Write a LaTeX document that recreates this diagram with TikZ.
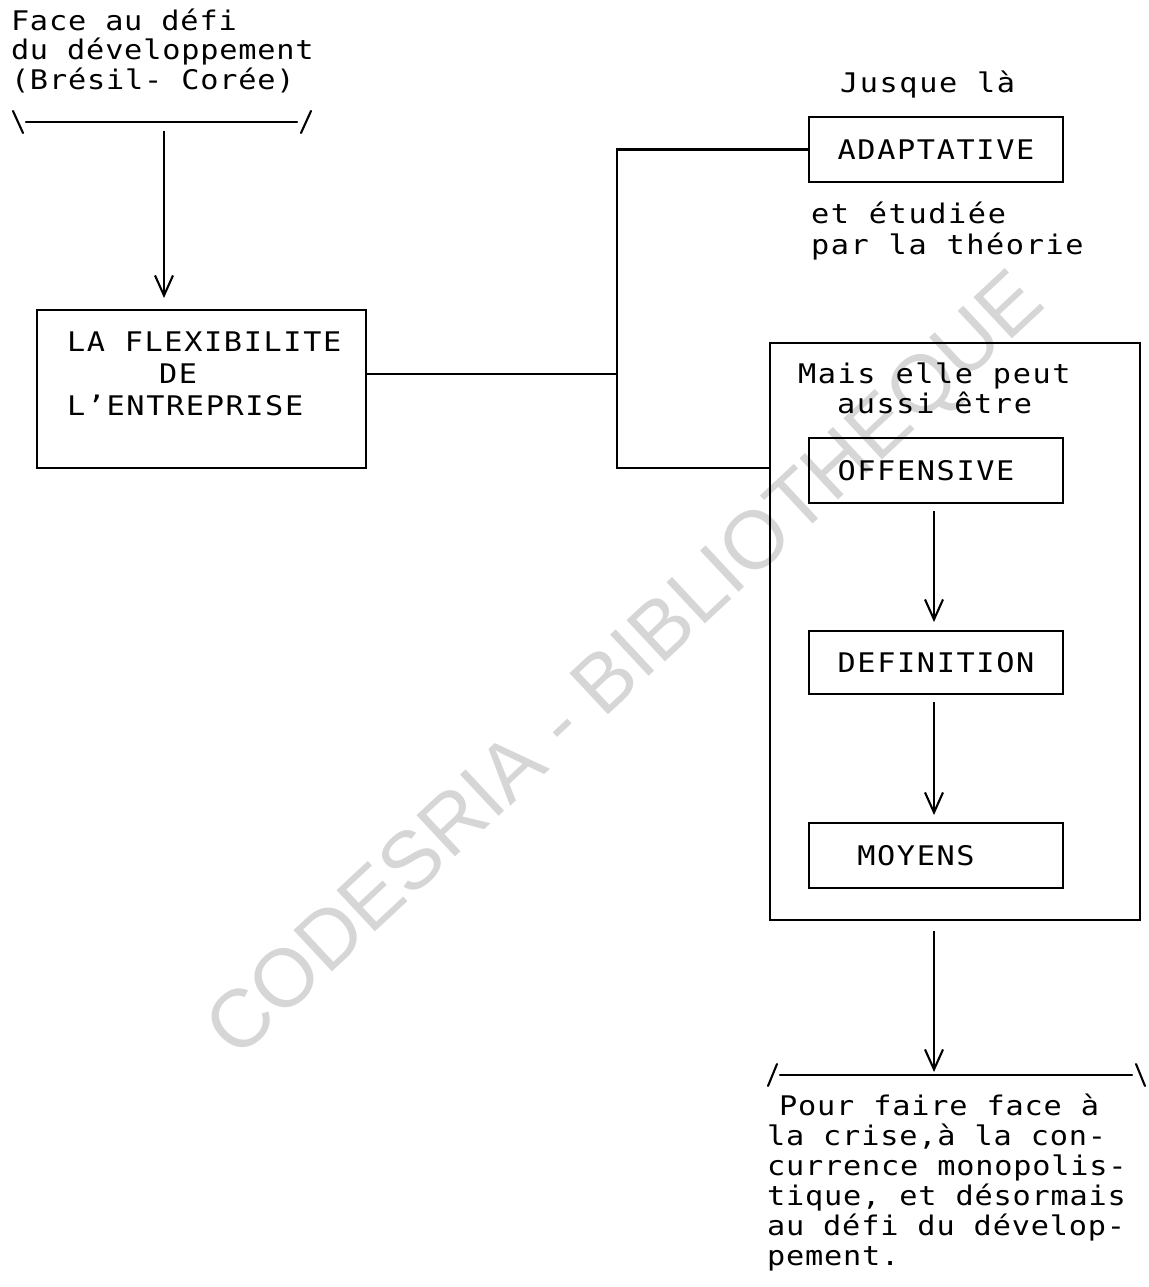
\documentclass[tikz,border=0pt]{standalone}
\usepackage{fontspec}
\newfontfamily\tw[FakeStretch=1.12,LetterSpace=6]{DejaVu Sans Mono}
\newfontfamily\twn[FakeStretch=1.12,LetterSpace=3]{DejaVu Sans Mono}
\newfontfamily\wm{Liberation Sans}
\usetikzlibrary{arrows.meta}

\begin{document}
\begin{tikzpicture}[x=1pt,y=-1pt,
  every node/.style={inner sep=0pt, outer sep=0pt},
  txt/.style={font=\tw\fontsize{27}{30}\selectfont, align=left, anchor=north west},
  boxtxt/.style={font=\tw\fontsize{27}{30}\selectfont},
  frame/.style={draw, line width=2.1pt, rectangle},
  link/.style={line width=2.1pt},
  flow/.style={line width=2.1pt, -{Straight Barb[length=20pt,width=18pt,line width=2.1pt]}},
  brace/.style={line width=2.1pt, line cap=round},
]
\useasboundingbox (0,0) rectangle (1148,1287);

% library stamp behind everything
\node[font=\wm\fontsize{82}{82}\selectfont, text=black!16, rotate=43] (stamp) at (628,668) {CODESRIA - BIBLIOTHEQUE};

% upper left heading and its bracket
\node[txt, font=\twn\fontsize{27}{29.5}\selectfont] (head) at (11,4.5) {\rule{0pt}{26pt}Face au défi\\du développement\\(Brésil- Corée)};
\draw[brace] (13,111) -- (23,133);
\draw[brace] (26,122) -- (297,122);
\draw[brace] (301,133) -- (311,111);
\coordinate (src) at (164,131);

% main box
\node[frame, minimum width=329pt, minimum height=158pt] (flex) at (201.5,389) {};
\node[txt, font=\tw\fontsize{27}{32}\selectfont] (flextxt) at (67,325) {\rule{0pt}{26pt}LA FLEXIBILITE\\\hspace*{92pt}DE\\L’ENTREPRISE};

% upper branch
\node[txt] (until) at (840,67) {\rule{0pt}{26pt}Jusque là};
\node[frame, boxtxt, minimum width=254pt, minimum height=65pt] (adapt) at (936,149.5) {ADAPTATIVE};
\node[txt, font=\tw\fontsize{27}{31}\selectfont] (theory) at (811,197) {\rule{0pt}{26pt}et étudiée\\par la théorie};

% lower branch
\node[frame, minimum width=370pt, minimum height=577pt] (big) at (955,631.5) {};
\node[txt, font=\tw\fontsize{27}{30.5}\selectfont] (also) at (798,357) {\rule{0pt}{26pt}Mais elle peut\\\hspace*{39pt}aussi être};
\node[frame, boxtxt, minimum width=254pt, minimum height=65pt] (off) at (936,470.5) {OFFENSIVE\hspace*{20pt}};
\node[frame, boxtxt, minimum width=254pt, minimum height=63pt] (def) at (936,662.5) {DEFINITION};
\node[frame, boxtxt, minimum width=254pt, minimum height=65pt] (moy) at (936,855.5) {MOYENS\hspace*{40pt}};

% closing bracket and text
\draw[brace] (768,1086) -- (777,1064);
\draw[brace] (780,1075) -- (1132,1075);
\draw[brace] (1136,1064) -- (1145,1086);
\coordinate (sink) at (934,1072);
\node[txt, font=\twn\fontsize{27}{30}\selectfont] (goal) at (767,1089) {\rule{0pt}{26pt}\hspace*{12pt}Pour faire face à\\la crise,à la con-\\currence monopolis-\\tique, et désormais\\au défi du dévelop-\\pement.};

% connectors
\coordinate (j) at (617,374);
\coordinate (jt) at (617,149.5);
\coordinate (jb) at (617,468);
\coordinate (ax) at (934,0);
\draw[flow, shorten >=12pt] (src) -- (src |- flex.north);
\draw[link] (flex.east |- j) -- (j);
\draw[link] (adapt.west) -- (jt) -- (jb) -- (jb -| big.west);
\draw[flow, shorten <=8pt, shorten >=9pt] (off.south -| ax) -- (def.north -| ax);
\draw[flow, shorten <=8pt, shorten >=8pt] (def.south -| ax) -- (moy.north -| ax);
\draw[flow, shorten <=11pt] (big.south -| ax) -- (sink);
\end{tikzpicture}
\end{document}
